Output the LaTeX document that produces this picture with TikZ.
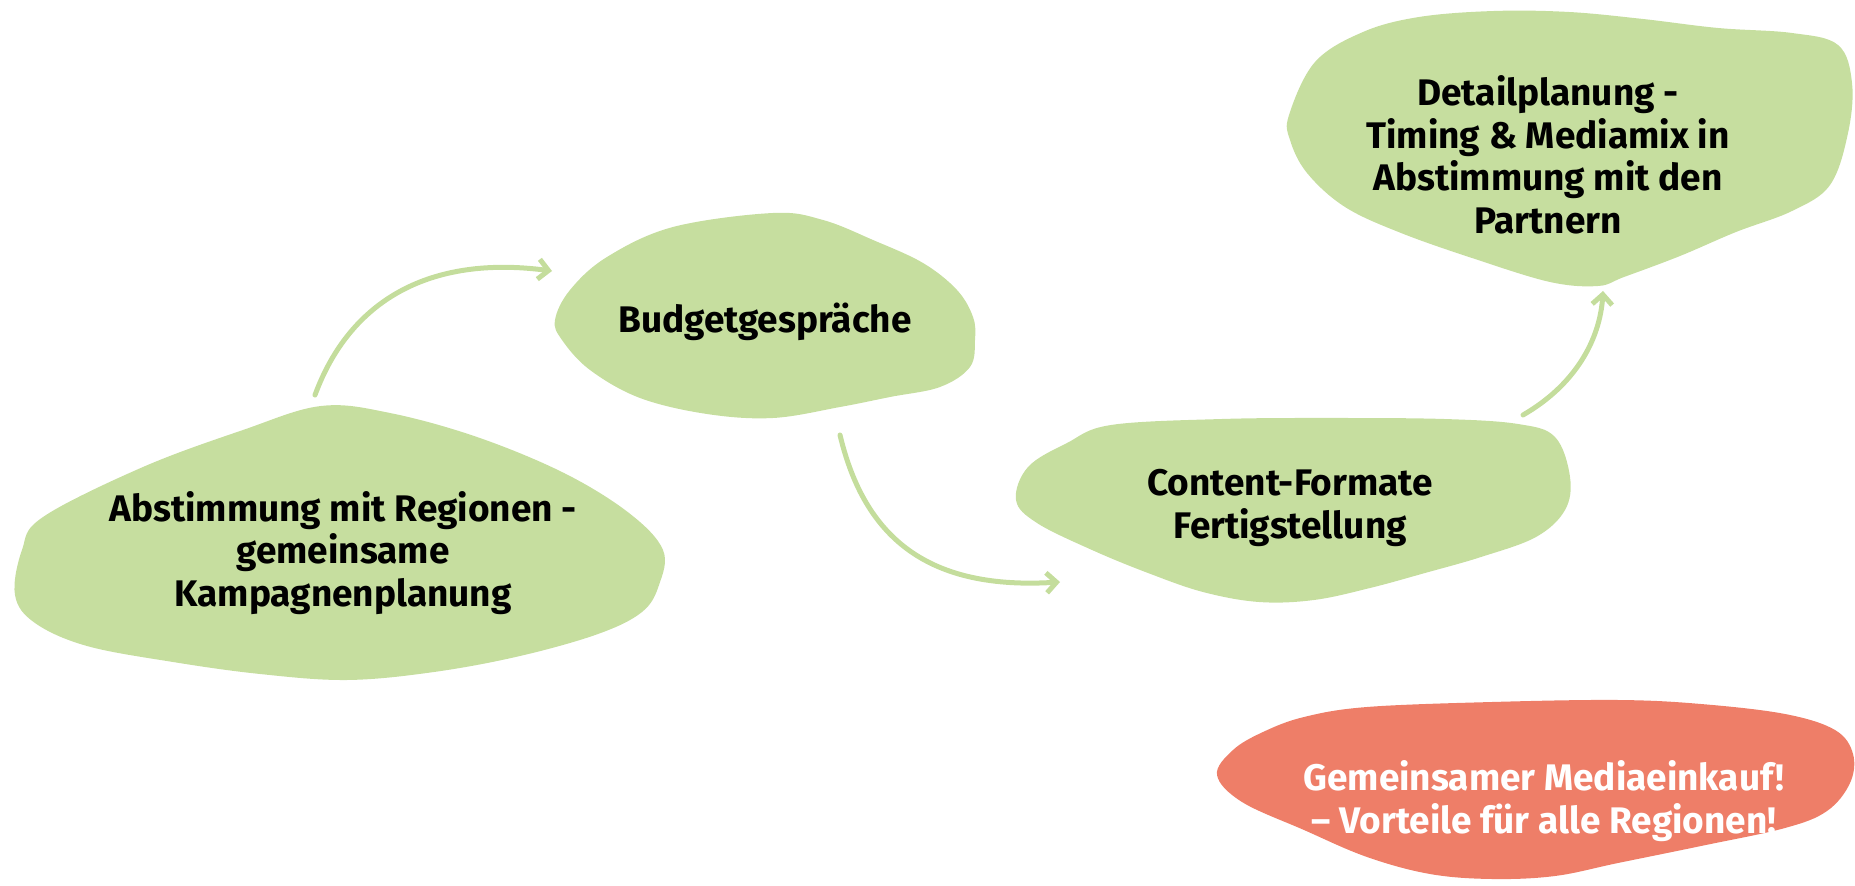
\documentclass[tikz,border=0pt]{standalone}
\usepackage{fontspec}
\setmainfont{Fira Sans}
\usetikzlibrary{arrows.meta}
\definecolor{blobgreen}{HTML}{C6DE9F}
\definecolor{arrowgreen}{HTML}{C4DD9C}
\definecolor{blobred}{HTML}{EE7E68}
\begin{document}
\begin{tikzpicture}[x=0.5pt,y=-0.5pt,
  blobg/.style={fill=blobgreen, draw=none},
  blobr/.style={fill=blobred, draw=none},
  lbl/.style={font=\bfseries\fontsize{18.5}{21.3}\selectfont, align=center, text=black, inner sep=0pt},
  lblw/.style={lbl, text=white},
  conn/.style={draw=arrowgreen, line width=2.5pt, line cap=round, -{Straight Barb[length=5pt,width=10pt,line width=2.5pt]}}
]
\useasboundingbox (0,0) rectangle (1855,886);
% blobs
\fill[blobg] plot[smooth cycle, tension=0.6] coordinates {(321,406) (390,413) (477,437) (564,473) (629,513) (663,550) (659,585) (642,612) (598,634) (520,656) (434,672) (347,680) (260,674) (173,662) (87,646) (35,623) (15,595) (22,550) (43,517) (143,467) (243,430)};
\fill[blobg] plot[smooth cycle, tension=0.6] coordinates {(555,320) (570,290) (607,257) (673,227) (773,213) (823,220) (873,240) (923,263) (957,290) (973,317) (975,340) (970,367) (940,387) (890,397) (840,407) (773,418) (707,414) (640,398) (590,370) (562,340)};
\fill[blobg] plot[smooth cycle, tension=0.6] coordinates {(1111,425) (1222,419) (1333,418) (1444,419) (1518,424) (1555,437) (1570,477) (1565,510) (1536,537) (1481,557) (1425,573) (1370,588) (1314,600) (1259,602) (1203,592) (1148,573) (1092,550) (1037,523) (1016,500) (1028,467) (1067,443)};
\fill[blobg] plot[smooth cycle, tension=0.6] coordinates {(1289,115) (1315,62) (1363,32) (1419,17) (1494,11) (1569,12) (1643,19) (1718,28) (1792,33) (1838,45) (1852,83) (1848,133) (1830,185) (1792,211) (1736,232) (1680,256) (1624,277) (1598,286) (1550,282) (1475,259) (1401,233) (1345,207) (1307,173) (1290,140)};
\fill[blobr] plot[smooth cycle, tension=0.6] coordinates {(1217,775) (1233,750) (1263,732) (1304,717) (1367,707) (1492,702) (1618,700) (1701,704) (1785,714) (1835,730) (1853,754) (1850,783) (1827,811) (1785,828) (1701,846) (1618,863) (1555,876) (1492,879) (1430,874) (1367,857) (1304,830) (1242,802)};
% labels
\node[lbl] (a) at (343,553) {Abstimmung mit Regionen -\\gemeinsame\\Kampagnenplanung};
\node[lbl] (b) at (765,322) {Budgetgespräche};
\node[lbl] (c) at (1290,508) {Content-Formate\\Fertigstellung};
\node[lbl] (d) at (1548,155) {Detailplanung -\\Timing \& Mediamix in\\Abstimmung mit den\\Partnern};
\node[lblw] (e) at (1544,801) {Gemeinsamer Mediaeinkauf!\\– Vorteile für alle Regionen!};
% connectors
\coordinate (a1) at (315,395);
\coordinate (b1) at (552,271);
\coordinate (b2) at (840,435);
\coordinate (c1) at (1060,582);
\coordinate (c2) at (1523,415);
\coordinate (d1) at (1603,291);
\draw[conn] (a1) .. controls (350,300) and (430,255) .. (b1);
\draw[conn] (b2) .. controls (865,540) and (930,590) .. (c1);
\draw[conn] (c2) .. controls (1575,385) and (1600,340) .. (d1);
\end{tikzpicture}
\end{document}
